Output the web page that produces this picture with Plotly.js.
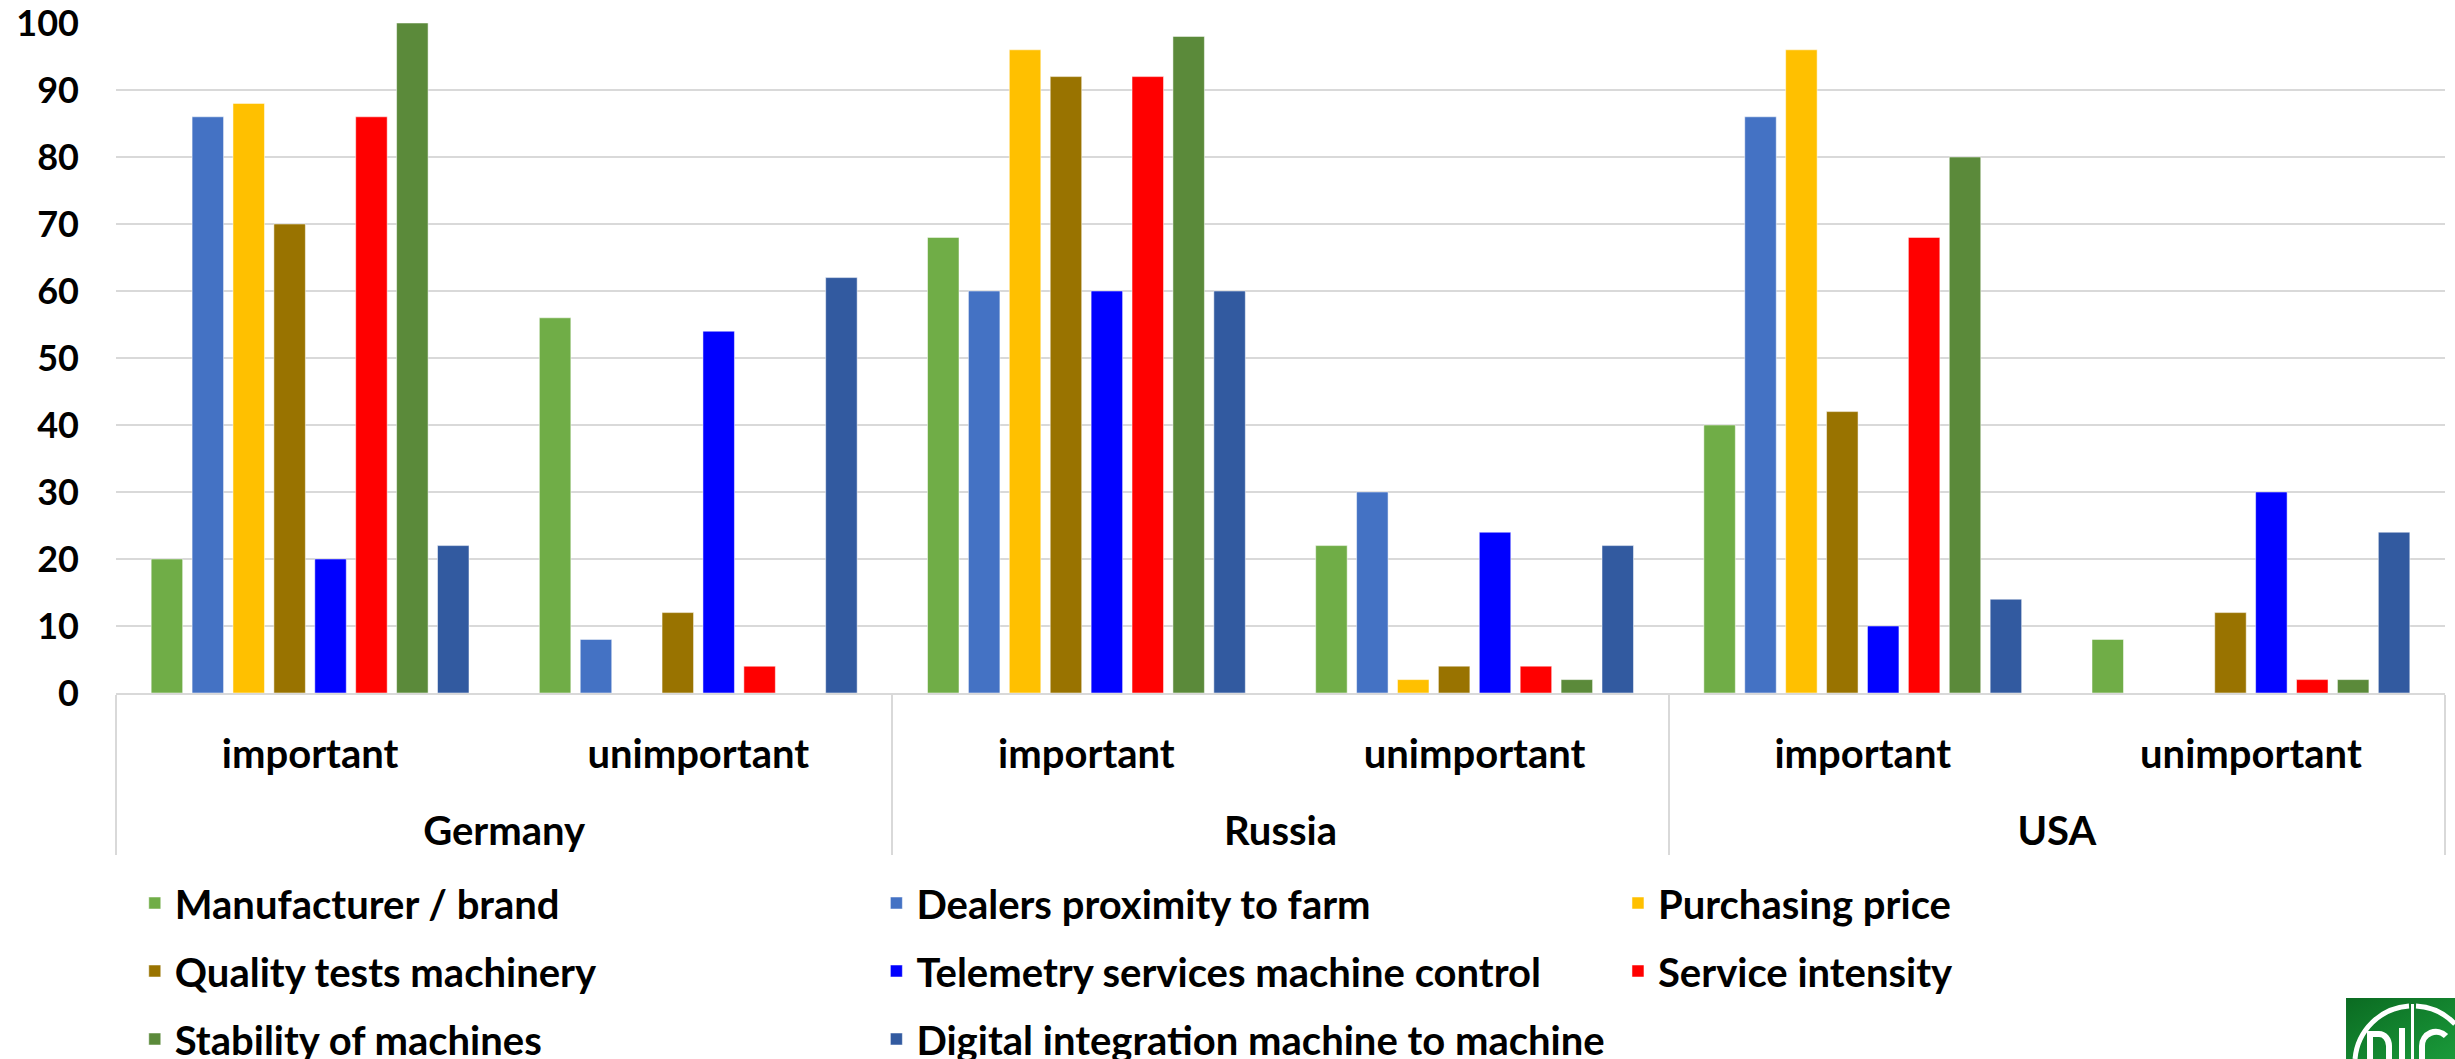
<!DOCTYPE html>
<html>
<head>
<meta charset="utf-8">
<script src="https://cdn.plot.ly/plotly-3.0.1.min.js"></script>
<style>
  html, body { margin: 0; padding: 0; background: #ffffff; }
  #chart { width: 2455px; height: 1059px; }
</style>
</head>
<body>
<div id="chart"></div>
<script>
// ---- data ----
const countries = ['Germany', 'Germany', 'Russia', 'Russia', 'USA', 'USA'];
const ratings = ['important', 'unimportant', 'important', 'unimportant', 'important', 'unimportant'];

const seriesNames = [
  'Manufacturer / brand',
  'Dealers proximity to farm',
  'Purchasing price',
  'Quality tests machinery',
  'Telemetry services machine control',
  'Service intensity',
  'Stability of machines',
  'Digital integration machine to machine'
];

const manufacturerBrand   = [20, 56, 68, 22, 40, 8];
const dealersProximity    = [86, 8, 60, 30, 86, 0];
const purchasingPrice     = [88, 0, 96, 2, 96, 0];
const qualityTests        = [70, 12, 92, 4, 42, 12];
const telemetryServices   = [20, 54, 60, 24, 10, 30];
const serviceIntensity    = [86, 4, 92, 4, 68, 2];
const stabilityMachines   = [100, 0, 98, 2, 80, 2];
const digitalIntegration  = [22, 62, 60, 22, 14, 24];

const yTickValues = [0, 10, 20, 30, 40, 50, 60, 70, 80, 90, 100];

// ---- styles ----
const seriesValues = [manufacturerBrand, dealersProximity, purchasingPrice, qualityTests,
                      telemetryServices, serviceIntensity, stabilityMachines, digitalIntegration];
const seriesColors = ['#70AD47', '#4472C4', '#FFC000', '#997300', '#0000FF', '#FF0000', '#5B8A3A', '#325AA0'];
const legendOf = ['legend', 'legend', 'legend', 'legend2', 'legend2', 'legend2', 'legend3', 'legend3'];

const FONT = 'Lato, "Open Sans", sans-serif';

// inner label gets an empty second line so the outer (country) row sits lower, as in the reference
const innerLabels = ratings.map(r => r + '<br>\u00a0');

const traces = seriesNames.map((name, i) => ({
  type: 'bar',
  name: name,
  x: [countries, innerLabels],
  y: seriesValues[i],
  marker: { color: seriesColors[i], line: { color: 'rgba(255,255,255,0.5)', width: 1 } },
  legend: legendOf[i],
  hoverinfo: 'y+name'
}));

const legendBase = {
  orientation: 'h',
  xref: 'container', yref: 'container',
  xanchor: 'left', yanchor: 'middle',
  x: 0.0549,
  entrywidth: 696.6, entrywidthmode: 'pixels',
  bgcolor: 'rgba(0,0,0,0)',
  borderwidth: 0,
  font: { family: FONT, size: 40, color: '#000000', weight: 'bold' },
  traceorder: 'normal'
};

const logoSvg =
  '<svg xmlns="http://www.w3.org/2000/svg" width="109" height="61" viewBox="0 0 109 61">' +
  '<defs><linearGradient id="g" x1="0" y1="0" x2="1" y2="1">' +
  '<stop offset="0" stop-color="#0B6B22"/><stop offset="1" stop-color="#1A9A3A"/></linearGradient></defs>' +
  '<rect x="0" y="0" width="109" height="61" fill="url(#g)"/>' +
  '<path d="M9,61 A58,58 0 0 1 63,8" fill="none" stroke="#fff" stroke-width="5"/>' +
  '<path d="M70,8 A58,58 0 0 1 109,26" fill="none" stroke="#fff" stroke-width="5"/>' +
  '<rect x="65" y="6" width="3" height="55" fill="#fff"/>' +
  '<path d="M24,61 V36 H33 A10,12 0 0 1 43,48 V61" fill="none" stroke="#fff" stroke-width="6"/>' +
  '<path d="M56,30 V61" stroke="#fff" stroke-width="6"/>' +
  '<path d="M100,38 A14,14 0 0 0 76,48 V61" fill="none" stroke="#fff" stroke-width="6"/>' +
  '</svg>';

const layout = {
  width: 2455,
  height: 1059,
  margin: { l: 115.5, r: 10, t: 23, b: 366, pad: 0 },
  paper_bgcolor: '#ffffff',
  plot_bgcolor: '#ffffff',
  barmode: 'group',
  bargap: 0.157,
  bargroupgap: 0.23,
  font: { family: FONT, size: 36, color: '#000000', weight: 'bold' },
  showlegend: true,
  xaxis: {
    type: 'multicategory',
    showline: true,
    linecolor: '#D9D9D9',
    linewidth: 2,
    showgrid: false,
    ticks: '',
    showdividers: true,
    dividercolor: '#D9D9D9',
    dividerwidth: 2,
    tickfont: { family: FONT, size: 40, color: '#000000', weight: 'bold' },
    ticklabelstandoff: 25,
    automargin: false
  },
  yaxis: {
    range: [0, 100],
    tickvals: yTickValues,
    ticks: '',
    showline: false,
    showgrid: true,
    gridcolor: '#D9D9D9',
    gridwidth: 2,
    zeroline: false,
    tickfont: { family: FONT, size: 36, color: '#000000', weight: 'bold' },
    ticklabelstandoff: 36,
    ticklabeloverflow: 'allow',
    automargin: false,
    fixedrange: true
  },
  legend:  Object.assign({}, legendBase, { y: 1 - 903 / 1059 }),
  legend2: Object.assign({}, legendBase, { y: 1 - 971 / 1059 }),
  legend3: Object.assign({}, legendBase, { y: 1 - 1039 / 1059 }),
  images: [{
    source: 'data:image/svg+xml;charset=utf-8,' + encodeURIComponent(logoSvg),
    xref: 'paper', yref: 'paper',
    x: (2346 - 115.5) / 2329.5,
    y: (693 - 998) / 670,
    sizex: 109 / 2329.5,
    sizey: 61 / 670,
    sizing: 'stretch',
    xanchor: 'left', yanchor: 'top',
    layer: 'above'
  }]
};

Plotly.newPlot('chart', traces, layout, { displayModeBar: false, staticPlot: true });
</script>
</body>
</html>
